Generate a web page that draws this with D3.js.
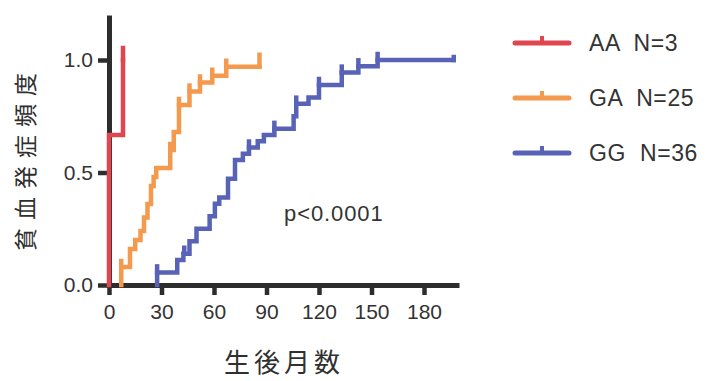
<!DOCTYPE html>
<html><head><meta charset="utf-8">
<script src="https://cdn.jsdelivr.net/npm/d3@7"></script>
<style>
html,body{margin:0;padding:0;background:#fff;}
svg{display:block;}
</style></head>
<body>
<svg id="chart" width="706" height="381"></svg>
<script>
// ---- data ----
const xTicks = [0, 30, 60, 90, 120, 150, 180];
const yTicks = [0, 0.5, 1.0];
const seriesNames = ["AA  N=3", "GA  N=25", "GG  N=36"];
const seriesColors = ["#e0464f", "#f39a4e", "#5862b6"];

const aaTimes = [0, 0, 8];
const aaValues = [0, 0.667, 1.0];
const aaCensored = [8];

const gaTimes = [7, 7, 12, 15, 18, 20, 22, 24, 25.5, 27, 35, 37, 40, 46, 52, 59, 67, 86];
const gaValues = [0, 0.08, 0.16, 0.20, 0.24, 0.30, 0.36, 0.44, 0.48, 0.52, 0.60, 0.68, 0.80, 0.86, 0.90, 0.93, 0.97, 0.97];
const gaCensored = [7, 35, 40, 46, 52, 59, 67, 86];

const ggTimes = [27.5, 27.5, 39, 42.5, 46, 50, 57.5, 60.5, 63, 68, 72, 76.5, 80, 85, 88.5, 94.5, 105.5, 107, 114, 120, 133, 142.5, 153.5, 197];
const ggValues = [0, 0.056, 0.111, 0.139, 0.194, 0.25, 0.306, 0.361, 0.389, 0.472, 0.556, 0.583, 0.611, 0.639, 0.667, 0.694, 0.75, 0.806, 0.833, 0.889, 0.944, 0.972, 1.0, 1.0];
const ggCensored = [27.5, 43, 80, 94.5, 107, 120, 133, 142.5, 153.5, 197];

const pLabel = "p<0.0001";
const xTitle = "生後月数";
const yTitle = "貧血発症頻度";

// ---- chart ----
const svg = d3.select("#chart");
const x = d3.scaleLinear().domain([0, 200]).range([109, 459]);
const y = d3.scaleLinear().domain([0, 1.2]).range([285, 15]);
const axisColor = "#2d2d2d";
const numFont = "'Liberation Sans', Arial, sans-serif";
const cjkFont = "'Noto Sans CJK JP', sans-serif";

// axes
const xAxis = svg.append("g").attr("transform", `translate(0,${y(0)})`)
  .call(d3.axisBottom(x).tickValues(xTicks).tickSize(10).tickPadding(9).tickSizeOuter(0));
const yAxis = svg.append("g").attr("transform", `translate(${x(0)},0)`)
  .call(d3.axisLeft(y).tickValues(yTicks).tickSize(11).tickPadding(5).tickSizeOuter(0).tickFormat(d3.format(".1f")));
[xAxis, yAxis].forEach(g => {
  g.select(".domain").attr("stroke", axisColor).attr("stroke-width", 5);
  g.selectAll(".tick line").attr("stroke", axisColor).attr("stroke-width", 4.5);
  g.selectAll(".tick text").attr("fill", "#333").attr("font-family", numFont).attr("font-size", 21);
});

// curves
const line = d3.line().x(d => x(d[0])).y(d => y(d[1])).curve(d3.curveStepAfter);
const series = [
  {t: aaTimes, v: aaValues, c: aaCensored},
  {t: gaTimes, v: gaValues, c: gaCensored},
  {t: ggTimes, v: ggValues, c: ggCensored}
];
function valueAt(s, t) {
  let val = 0;
  for (let i = 0; i < s.t.length; i++) if (s.t[i] <= t) val = s.v[i];
  return val;
}
series.forEach((s, i) => {
  const pts = s.t.map((t, k) => [t, s.v[k]]);
  const last = s.t[s.t.length - 1];
  svg.append("path").attr("d", line(pts)).attr("fill", "none")
    .attr("stroke", seriesColors[i]).attr("stroke-width", 4.5)
    .attr("stroke-linejoin", "miter").attr("stroke-linecap", "square");
  svg.append("g").selectAll("line").data(s.c).join("line")
    .attr("x1", d => x(d)).attr("x2", d => x(d))
    .attr("y1", d => y(valueAt(s, d)))
    .attr("y2", d => y(valueAt(s, d)) - (d === last ? (i === 2 ? 3 : 12) : 6))
    .attr("stroke", seriesColors[i]).attr("stroke-width", 4.5).attr("stroke-linecap", "square");
});

// p-value
svg.append("text").attr("x", 284).attr("y", 221).text(pLabel)
  .attr("font-family", numFont).attr("font-size", 22).attr("letter-spacing", 0.9).attr("fill", "#333");

// legend
const legY = [43, 98, 153];
seriesNames.forEach((name, i) => {
  const g = svg.append("g");
  g.append("line").attr("x1", 515).attr("x2", 569).attr("y1", legY[i]).attr("y2", legY[i])
    .attr("stroke", seriesColors[i]).attr("stroke-width", 5).attr("stroke-linecap", "round");
  g.append("line").attr("x1", 542).attr("x2", 542).attr("y1", legY[i]).attr("y2", legY[i] - 7)
    .attr("stroke", seriesColors[i]).attr("stroke-width", 4);
  g.append("text").attr("x", 589).attr("y", legY[i] + 8).text(name)
    .style("white-space", "pre")
    .attr("font-family", numFont).attr("font-size", 23).attr("letter-spacing", 0.6).attr("fill", "#333");
});

// axis titles
svg.append("text").attr("x", 284).attr("y", 372).attr("text-anchor", "middle")
  .attr("font-family", cjkFont).attr("font-size", 26).attr("letter-spacing", 4)
  .attr("fill", "#2f2f2f").text(xTitle);
svg.append("text").attr("transform", "translate(34,158) rotate(-90)").attr("text-anchor", "middle")
  .attr("font-family", cjkFont).attr("font-size", 23).attr("letter-spacing", 8)
  .attr("fill", "#2f2f2f").text(yTitle);
</script>
</body></html>
